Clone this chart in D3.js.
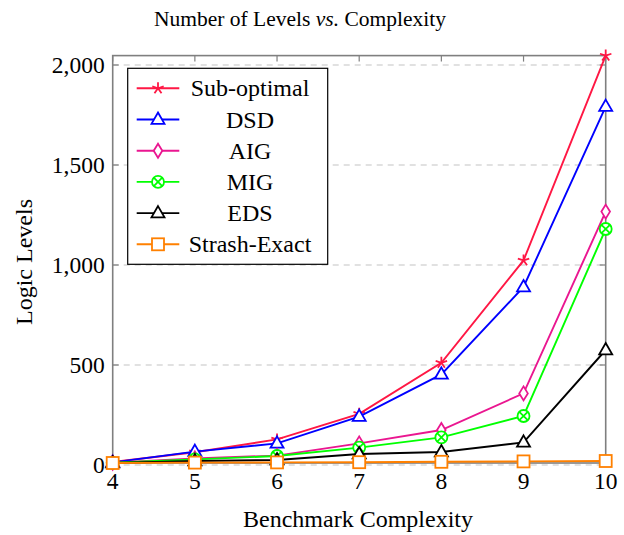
<!DOCTYPE html>
<html><head><meta charset="utf-8">
<script src="https://cdn.jsdelivr.net/npm/d3@7"></script>
<style>
body{margin:0;background:#fff;}
svg{display:block;}
text{font-family:"Liberation Serif","Times New Roman",serif;fill:#000;}
</style></head>
<body>
<svg id="c" width="624" height="535"></svg>
<script>
const complexity = [4, 5, 6, 7, 8, 9, 10];
const subOptimal  = [15, 64, 128, 256, 511, 1023, 2047];
const dsd         = [13, 67, 108, 242, 453, 890, 1792];
const aig         = [11, 33, 47, 108, 175, 358, 1267];
const mig         = [11, 28, 45, 87, 138, 245, 1180];
const eds         = [10, 20, 25, 55, 65, 113, 575];
const strashExact = [10, 12, 13, 14, 16, 18, 20];
const yTicks = [0, 500, 1000, 1500, 2000];
const seriesNames = ["Sub-optimal", "DSD", "AIG", "MIG", "EDS", "Strash-Exact"];
const seriesValues = [subOptimal, dsd, aig, mig, eds, strashExact];
const seriesColors = ["#ff1744", "#0000ff", "#ea1690", "#00ff00", "#000000", "#ff8000"];
const seriesMarkers = ["star", "triangle", "diamond", "otimes", "triangle", "square"];

const svg = d3.select("#c");
const x = d3.scaleLinear().domain([4, 10]).range([112.7, 605.7]);
const y = d3.scaleLinear().domain([0, 2000]).range([465, 65]);
const allVals = seriesValues.flat();
const yTop = y(d3.max(allVals)), yBot = y(d3.min(allVals));
const axisColor = "#7f7f7f";

// grid
svg.append("g").selectAll("line").data(yTicks).join("line")
  .attr("x1", x(4)).attr("x2", x(10)).attr("y1", d => y(d)).attr("y2", d => y(d))
  .attr("stroke", "#c4c4c4").attr("stroke-width", 1.2).attr("stroke-dasharray", "6,5");

// ticks inside
const tk = svg.append("g").attr("stroke", axisColor).attr("stroke-width", 1.2);
yTicks.forEach(d => {
  tk.append("line").attr("x1", x(4)).attr("x2", x(4) + 6).attr("y1", y(d)).attr("y2", y(d));
  tk.append("line").attr("x1", x(10)).attr("x2", x(10) - 6).attr("y1", y(d)).attr("y2", y(d));
});
complexity.forEach(d => {
  tk.append("line").attr("x1", x(d)).attr("x2", x(d)).attr("y1", yTop).attr("y2", yTop + 6);
  tk.append("line").attr("x1", x(d)).attr("x2", x(d)).attr("y1", yBot).attr("y2", yBot - 6);
});
// frame
svg.append("rect").attr("x", x(4)).attr("y", yTop).attr("width", x(10) - x(4)).attr("height", yBot - yTop)
  .attr("fill", "none").attr("stroke", axisColor).attr("stroke-width", 1.6);

// tick labels
svg.append("g").selectAll("text").data(yTicks).join("text")
  .attr("x", x(4) - 8).attr("y", d => y(d) + 8).attr("text-anchor", "end")
  .attr("font-size", 23.5).text(d => d3.format(",")(d));
svg.append("g").selectAll("text").data(complexity).join("text")
  .attr("x", d => x(d)).attr("y", 489).attr("text-anchor", "middle")
  .attr("font-size", 23.5).text(d => d);

// markers
function marker(g, type, cx, cy, color) {
  const s = g.append("g").attr("transform", `translate(${cx},${cy})`)
    .attr("fill", "#fff").attr("stroke", color).attr("stroke-width", 1.8);
  if (type === "star") {
    let p = "";
    for (let i = 0; i < 5; i++) {
      const a = -Math.PI / 2 + i * 2 * Math.PI / 5;
      p += `M0,0L${6 * Math.cos(a)},${6 * Math.sin(a)}`;
    }
    s.append("path").attr("d", p).attr("fill", "none");
  } else if (type === "triangle") {
    s.append("path").attr("d", "M0,-7L6.5,4.3L-6.5,4.3Z");
  } else if (type === "diamond") {
    s.append("path").attr("d", "M0,-7L4.3,0L0,7L-4.3,0Z");
  } else if (type === "otimes") {
    s.append("circle").attr("r", 6);
    s.append("path").attr("d", "M-4.2,-4.2L4.2,4.2M-4.2,4.2L4.2,-4.2").attr("fill", "none");
  } else if (type === "square") {
    s.append("rect").attr("x", -6).attr("y", -6).attr("width", 12).attr("height", 12);
  }
}

const line = d3.line().x((d, i) => x(complexity[i])).y(d => y(d));
seriesValues.forEach((vals, k) => {
  const g = svg.append("g");
  g.append("path").datum(vals).attr("d", line).attr("fill", "none")
    .attr("stroke", seriesColors[k]).attr("stroke-width", 1.9);
  vals.forEach((v, i) => marker(g, seriesMarkers[k], x(complexity[i]), y(v), seriesColors[k]));
});

// legend
const lg = svg.append("g");
lg.append("rect").attr("x", 127.7).attr("y", 68.3).attr("width", 200).attr("height", 196)
  .attr("fill", "#fff").attr("stroke", "#000").attr("stroke-width", 1.2);
seriesNames.forEach((n, k) => {
  const cy = 88.3 + k * 31.2;
  lg.append("line").attr("x1", 136.7).attr("x2", 179.3).attr("y1", cy).attr("y2", cy)
    .attr("stroke", seriesColors[k]).attr("stroke-width", 1.9);
  marker(lg, seriesMarkers[k], 158, cy, seriesColors[k]);
  lg.append("text").attr("x", 250).attr("y", cy + 8).attr("text-anchor", "middle")
    .attr("font-size", 24).text(n);
});

// title & labels
const t = svg.append("text").attr("x", 300).attr("y", 26).attr("text-anchor", "middle").attr("font-size", 21.5);
t.append("tspan").text("Number of Levels ");
t.append("tspan").attr("font-style", "italic").text("vs.");
t.append("tspan").text(" Complexity");
svg.append("text").attr("x", 358).attr("y", 527).attr("text-anchor", "middle").attr("font-size", 24)
  .text("Benchmark Complexity");
svg.append("text").attr("transform", "translate(32,262) rotate(-90)").attr("text-anchor", "middle")
  .attr("font-size", 24).text("Logic Levels");
</script>
</body></html>
